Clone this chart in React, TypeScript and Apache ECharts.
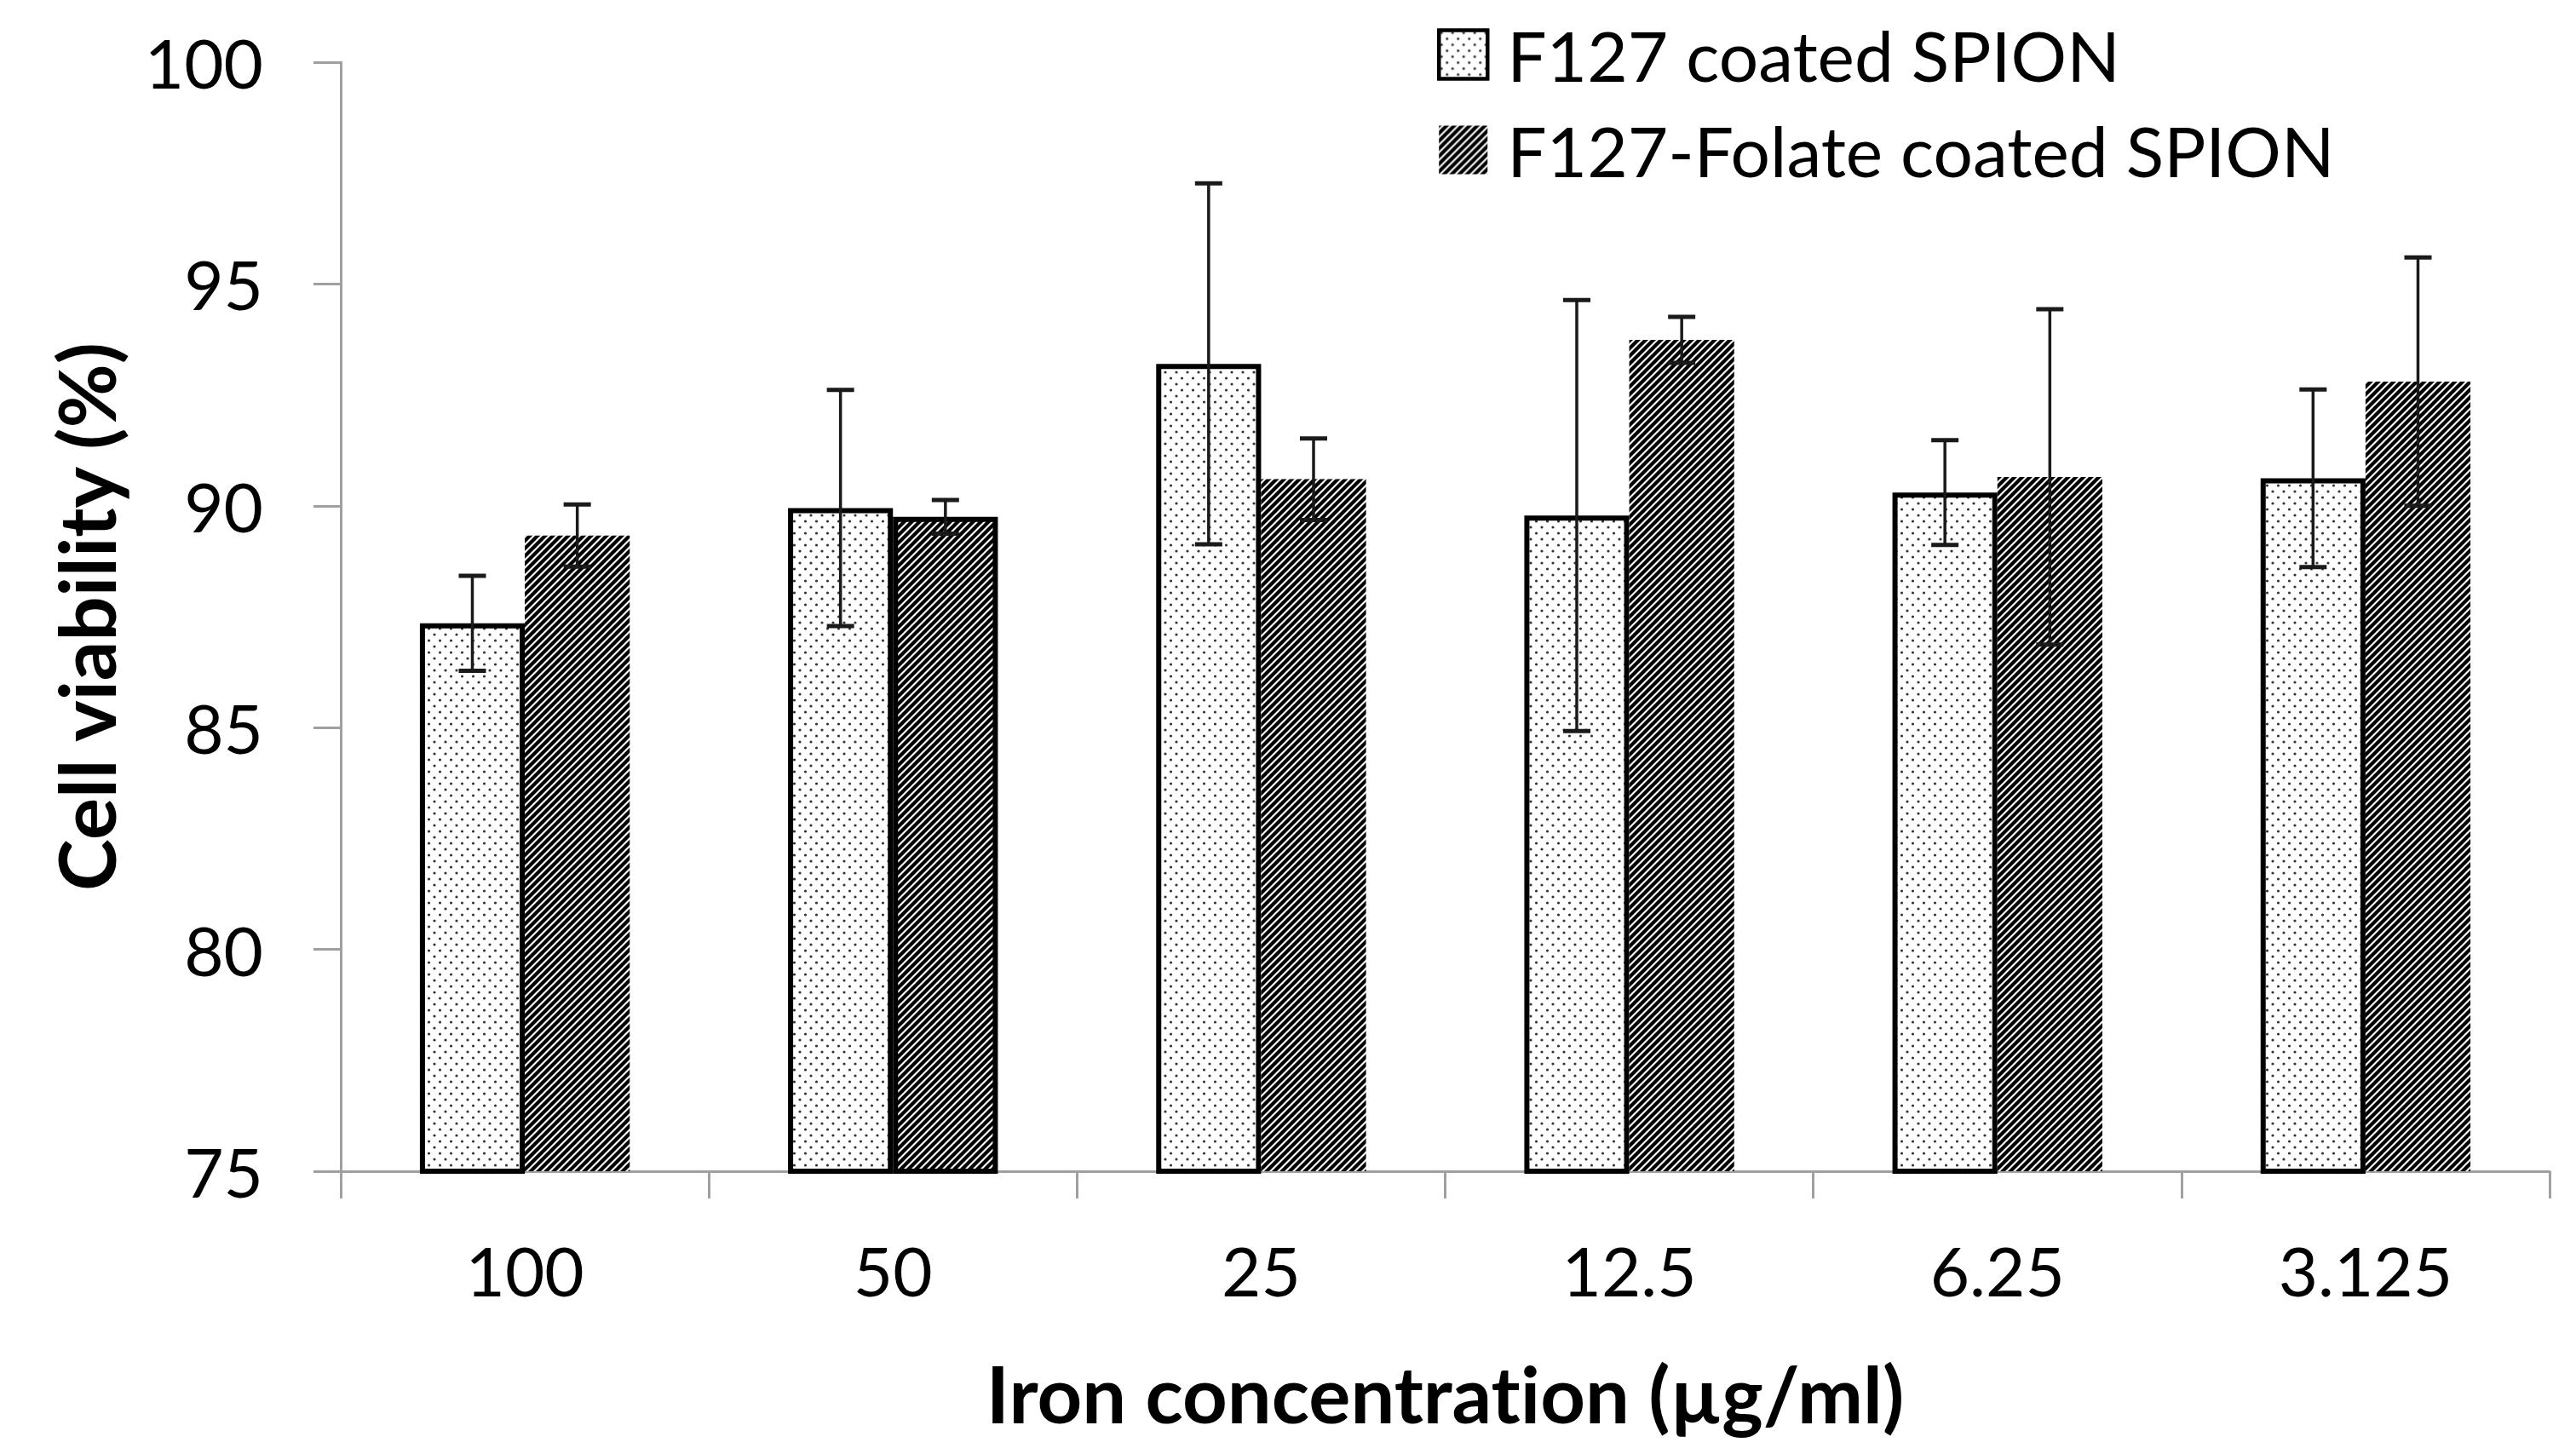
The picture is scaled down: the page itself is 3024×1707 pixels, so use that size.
import React, { useEffect, useRef } from "react";
import * as echarts from "echarts";

const categories = ["100", "50", "25", "12.5", "6.25", "3.125"];
const f127Values = [87.35, 89.95, 93.2, 89.78, 90.3, 90.62];
const f127Errors = [1.07, 2.66, 4.07, 4.86, 1.18, 2.0];
const folateValues = [89.33, 89.75, 90.6, 93.74, 90.65, 92.8];
const folateErrors = [0.7, 0.38, 0.92, 0.52, 3.78, 2.8];
const yTicks = { min: 75, max: 100, interval: 5 };
const seriesNames = ["F127 coated SPION", "F127-Folate coated SPION"];
const xTitle = "Iron concentration (µg/ml)";
const yTitle = "Cell viability (%)";

const BAR_FRAC = 0.285;
const FONT = "Lato, 'Open Sans', sans-serif";

function makeHatch() {
  const s = 9;
  const c = document.createElement("canvas");
  c.width = s;
  c.height = s;
  const g = c.getContext("2d")!;
  g.fillStyle = "#ffffff";
  g.fillRect(0, 0, s, s);
  g.strokeStyle = "#000000";
  g.lineWidth = 4.2;
  g.lineCap = "square";
  const segs = [
    [0, s, s, 0],
    [-s, s, s, -s],
    [0, 2 * s, 2 * s, 0],
  ];
  segs.forEach(([a, b, c2, d]) => {
    g.beginPath();
    g.moveTo(a, b);
    g.lineTo(c2, d);
    g.stroke();
  });
  return c;
}

function makeDots() {
  const w = 13;
  const h = 14;
  const c = document.createElement("canvas");
  c.width = w;
  c.height = h;
  const g = c.getContext("2d")!;
  g.fillStyle = "#ffffff";
  g.fillRect(0, 0, w, h);
  g.fillStyle = "#333333";
  [
    [3, 3],
    [9.5, 10],
  ].forEach(([x, y]) => {
    g.beginPath();
    g.arc(x, y, 1.6, 0, Math.PI * 2);
    g.fill();
  });
  return c;
}

function errorSeries(values: number[], errors: number[], sign: number) {
  return {
    type: "custom",
    z: 10,
    silent: true,
    data: values.map((v, i) => [i, v, errors[i]]),
    encode: { x: 0, y: 1 },
    renderItem: (params: any, api: any) => {
      const idx = api.value(0);
      const m = api.value(1);
      const e = api.value(2);
      const top = api.coord([idx, m + e]);
      const bot = api.coord([idx, m - e]);
      const band = api.size([1, 0])[0];
      const cx = top[0] + (sign * band * BAR_FRAC) / 2;
      const cap = 16;
      const stroke = "#1a1a1a";
      return {
        type: "group",
        children: [
          { type: "line", shape: { x1: cx, y1: top[1], x2: cx, y2: bot[1] }, style: { stroke, lineWidth: 3.5 } },
          { type: "line", shape: { x1: cx - cap, y1: top[1], x2: cx + cap, y2: top[1] }, style: { stroke, lineWidth: 5 } },
          { type: "line", shape: { x1: cx - cap, y1: bot[1], x2: cx + cap, y2: bot[1] }, style: { stroke, lineWidth: 5 } },
        ],
      };
    },
  };
}

export default function App() {
  const ref = useRef<HTMLDivElement>(null);
  useEffect(() => {
    document.body.style.margin = "0";
    const chart = echarts.init(ref.current!, null, { renderer: "svg" });
    const hatch = { image: makeHatch(), repeat: "repeat", imageWidth: 9, imageHeight: 9 };
    const dots = { image: makeDots(), repeat: "repeat", imageWidth: 13, imageHeight: 14 };
    const axisGray = "#a0a0a0";
    chart.setOption({
      animation: false,
      backgroundColor: "#ffffff",
      grid: { left: 400, right: 31, top: 73, bottom: 332, containLabel: false },
      legend: {
        orient: "vertical",
        left: 1682,
        top: 18,
        itemWidth: 57,
        itemHeight: 57,
        itemGap: 30,
        icon: "rect",
        textStyle: { fontFamily: FONT, fontSize: 82, color: "#000", padding: [0, 0, 0, 18] },
        data: [
          { name: seriesNames[0], itemStyle: { borderWidth: 4.5, borderColor: "#000" } },
          { name: seriesNames[1], itemStyle: { borderWidth: 0 } },
        ],
      },
      xAxis: {
        type: "category",
        data: categories,
        name: xTitle,
        nameLocation: "middle",
        nameGap: 214,
        nameTextStyle: { fontFamily: FONT, fontSize: 92, fontWeight: "bold", color: "#000" },
        axisLine: { lineStyle: { color: axisGray, width: 3 } },
        axisTick: { show: true, length: 32, lineStyle: { color: axisGray, width: 3 } },
        axisLabel: { fontFamily: FONT, fontSize: 80, color: "#000", margin: 76 },
        splitLine: { show: false },
      },
      yAxis: {
        type: "value",
        min: yTicks.min,
        max: yTicks.max,
        interval: yTicks.interval,
        name: yTitle,
        nameLocation: "middle",
        nameGap: 254,
        nameTextStyle: { fontFamily: FONT, fontSize: 92, fontWeight: "bold", color: "#000" },
        axisLine: { show: true, lineStyle: { color: axisGray, width: 3 } },
        axisTick: { show: true, length: 32, lineStyle: { color: axisGray, width: 3 } },
        axisLabel: { fontFamily: FONT, fontSize: 80, color: "#000", margin: 91 },
        splitLine: { show: false },
      },
      series: [
        {
          name: seriesNames[0],
          type: "bar",
          barWidth: BAR_FRAC * 100 + "%",
          barGap: "0%",
          data: f127Values,
          itemStyle: { color: dots, borderColor: "#000", borderWidth: 6 },
        },
        {
          name: seriesNames[1],
          type: "bar",
          barWidth: BAR_FRAC * 100 + "%",
          barGap: "0%",
          data: folateValues.map((v, i) =>
            i === 1 ? { value: v, itemStyle: { borderColor: "#000", borderWidth: 6 } } : v
          ),
          itemStyle: { color: hatch, borderWidth: 0 },
        },
        errorSeries(f127Values, f127Errors, -1),
        errorSeries(folateValues, folateErrors, 1),
      ],
    });
    return () => chart.dispose();
  }, []);
  return (
    <>
      <style>{"svg text { font-variant-ligatures: none; font-feature-settings: 'liga' 0; }"}</style>
      <div ref={ref} style={{ position: "absolute", left: 0, top: 0, width: 3024, height: 1707 }} />
    </>
  );
}
